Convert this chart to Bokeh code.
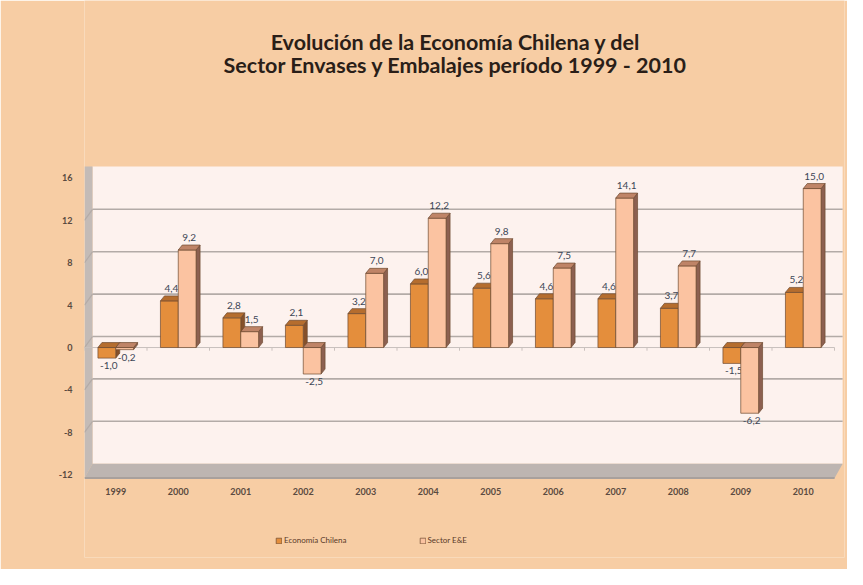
from bokeh.plotting import figure
from bokeh.models import Range1d, FixedTicker, Label, Legend, LegendItem, ColumnDataSource
from bokeh.embed import file_html
from bokeh.resources import INLINE
from bokeh.core.properties import value

# ---------------- data ----------------
years = ["1999", "2000", "2001", "2002", "2003", "2004", "2005", "2006", "2007", "2008", "2009", "2010"]
economia = [-1.0, 4.4, 2.8, 2.1, 3.2, 6.0, 5.6, 4.6, 4.6, 3.7, -1.5, 5.2]
sector = [-0.2, 9.2, 1.5, -2.5, 7.0, 12.2, 9.8, 7.5, 14.1, 7.7, -6.2, 15.0]
y_ticks = [-12, -8, -4, 0, 4, 8, 12, 16]
series_names = ["Economía Chilena", "Sector E&E"]
title_lines = ["Evolución de la Economía Chilena y del",
               "Sector Envases y Embalajes período 1999 - 2010"]

# ---------------- style ----------------
PEACH = "#F7CDA4"
WALL = "#FDF2EE"
GRID = "#B3ABA7"
SIDEWALL = "#C3BBB7"
FLOOR = "#BDB5B1"
OUTLINE = "#6E4A30"
ECON = dict(front="#E48E3C", top="#B56D2E", side="#85502A")
SECT = dict(front="#FBC3A1", top="#BF8467", side="#8C6050")
LABEL_COLOR = "#3C4656"
FONT = "Lato"

X0, X1 = -0.5, 11.66
Y0, Y1 = -19.81, 32.74
WALL_TOP = 17.08
FLOOR_Y = -12.3
AXIS_Y = -13.30
DX, DY = 0.128, 1.04      # wall depth
BDX, BDY = 0.064, 0.47    # bar depth
W = 0.285                 # bar width

p = figure(width=847, height=569, x_range=Range1d(X0, X1), y_range=Range1d(Y0, Y1),
           output_backend="svg", toolbar_location=None,
           min_border_left=84, min_border_right=3, min_border_top=0, min_border_bottom=12)
p.background_fill_color = PEACH
p.border_fill_color = PEACH
p.outline_line_color = None
p.xgrid.visible = False
p.ygrid.visible = False

n = len(years)
wall_right = 11.63

# back wall
p.quad(left=[X0 + DX], right=[wall_right], bottom=[-12 + DY], top=[WALL_TOP], fill_color=WALL, line_color=None)
# left wall
p.patch(x=[X0, X0 + DX, X0 + DX, X0], y=[FLOOR_Y, -12 + DY, WALL_TOP, WALL_TOP],
        fill_color=SIDEWALL, line_color=None)
# floor
p.patch(x=[X0, wall_right - DX, wall_right, X0 + DX], y=[FLOOR_Y, FLOOR_Y, -12 + DY, -12 + DY],
        fill_color=FLOOR, line_color=None)
p.segment(x0=[X0], y0=[FLOOR_Y], x1=[wall_right - DX], y1=[FLOOR_Y], line_color="#A8A09C", line_width=2)

# gridlines on back and left wall
gv = [v for v in y_ticks if -12 < v < 16]
p.segment(x0=[X0 + DX] * len(gv), y0=[v + DY for v in gv], x1=[wall_right] * len(gv),
          y1=[v + DY for v in gv], line_color=GRID, line_width=1.6)
p.segment(x0=[X0] * len(gv), y0=gv, x1=[X0 + DX] * len(gv), y1=[v + DY for v in gv],
          line_color=GRID, line_width=1.2)

# front zero axis with category ticks
p.segment(x0=[X0], y0=[0], x1=[n - 0.5], y1=[0], line_color="#C9C1BD", line_width=1)
bx = [i + 0.5 for i in range(-1, n)]
p.segment(x0=bx, y0=[0] * len(bx), x1=bx, y1=[-0.3] * len(bx), line_color="#C9C1BD", line_width=1)


def draw_series(vals, left_off, colors):
    lefts = [i + left_off for i in range(n)]
    rights = [l + W for l in lefts]
    tops = [max(v, 0) for v in vals]
    bots = [min(v, 0) for v in vals]
    sx = [[r, r, r + BDX, r + BDX] for r in rights]
    sy = [[b, t, t + BDY, b + BDY] for b, t in zip(bots, tops)]
    p.patches(xs=sx, ys=sy, fill_color=colors["side"], line_color=OUTLINE, line_width=0.7)
    src = ColumnDataSource(dict(left=lefts, right=rights, top=tops, bottom=bots))
    front = p.quad(left="left", right="right", top="top", bottom="bottom", source=src,
                   fill_color=colors["front"], line_color=OUTLINE, line_width=0.7)
    tx = [[l, r, r + BDX, l + BDX] for l, r in zip(lefts, rights)]
    ty = [[t, t, t + BDY, t + BDY] for t in tops]
    p.patches(xs=tx, ys=ty, fill_color=colors["top"], line_color=OUTLINE, line_width=0.7)
    lx = [(l + r) / 2 + BDX / 2 for l, r in zip(lefts, rights)]
    ly = [v + BDY if v >= 0 else v for v in vals]
    lt = [f"{v:.1f}".replace(".", ",") for v in vals]
    lo = [-4 if v >= 0 else 4 for v in vals]
    lb = ["bottom" if v >= 0 else "top" for v in vals]
    lsrc = ColumnDataSource(dict(x=lx, y=ly, text=lt, yo=lo, base=lb))
    p.text(x="x", y="y", text="text", y_offset="yo", text_baseline="base", source=lsrc,
           text_align="center", text_font=value(FONT), text_font_size="10px",
           text_color=LABEL_COLOR)
    return front


r_econ = draw_series(economia, -W, ECON)
r_sect = draw_series(sector, 0.0, SECT)

# axes
p.xaxis.ticker = FixedTicker(ticks=list(range(n)))
p.xaxis.major_label_overrides = {i: y for i, y in enumerate(years)}
p.xaxis.fixed_location = AXIS_Y
p.yaxis.ticker = FixedTicker(ticks=y_ticks)
p.yaxis.major_label_overrides = {v: str(v) for v in y_ticks}
for ax in (p.xaxis, p.yaxis):
    ax.axis_line_color = None
    ax.major_tick_line_color = None
    ax.minor_tick_line_color = None
    ax.major_tick_out = 0
    ax.major_tick_in = 0
    ax.major_label_text_font = FONT
    ax.major_label_text_font_size = "9px"
    ax.major_label_text_font_style = "bold"
    ax.major_label_text_color = "#5A4A40"
p.xaxis.major_label_standoff = 0
p.yaxis.major_label_standoff = 12

# title (two lines), positioned in screen pixels from the frame's bottom-left
for txt, yy in zip(title_lines, [516, 493]):
    p.add_layout(Label(x=371, y=yy, x_units="screen", y_units="screen", text=txt,
                       text_align="center", text_baseline="alphabetic",
                       text_font=FONT, text_font_size="21.5px", text_font_style="bold",
                       text_color="#2A1E18"))

# legend
legend = Legend(items=[LegendItem(label=series_names[0], renderers=[r_econ]),
                       LegendItem(label=series_names[1], renderers=[r_sect])],
                location=(191, 12), orientation="horizontal",
                glyph_width=7, glyph_height=7, label_standoff=2, spacing=72,
                padding=0, margin=0, label_height=8,
                label_text_font=FONT, label_text_font_size="8px", label_text_color="#5A3A28",
                background_fill_alpha=0, border_line_color=None)
p.add_layout(legend, "center")

open("out.html", "w").write(file_html(p, INLINE))
